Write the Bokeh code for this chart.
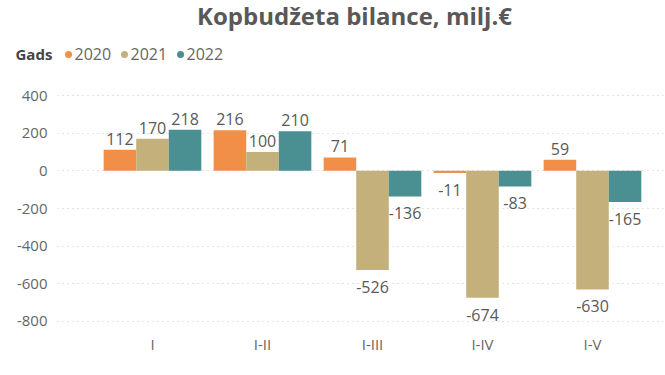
from bokeh.plotting import figure
from bokeh.models import Range1d, FixedTicker, ColumnDataSource
from bokeh.embed import file_html
from bokeh.resources import INLINE
from bokeh.core.properties import value

# ---- data ----
periods = ["I", "I-II", "I-III", "I-IV", "I-V"]
years = ["2020", "2021", "2022"]
v2020 = [112, 216, 71, -11, 59]
v2021 = [170, 100, -526, -674, -630]
v2022 = [218, 210, -136, -83, -165]
y_ticks = [-800, -600, -400, -200, 0, 200, 400]
colors = ["#F18F49", "#C4B07B", "#4A8F91"]
title_text = "Kopbudžeta bilance, milj.€"
legend_title = "Gads"

FONT = "Open Sans"
W = 665
HEAD_H = 86
MAIN_H = 375 - HEAD_H
BAR_W = 0.296

# ---------- header (title + legend) ----------
head = figure(width=W, height=HEAD_H, output_backend="svg", toolbar_location=None,
              x_range=Range1d(0, W), y_range=Range1d(HEAD_H, 0),
              x_axis_type=None, y_axis_type=None,
              min_border=0, min_border_left=0, min_border_right=0,
              min_border_top=0, min_border_bottom=0)
head.outline_line_color = None
head.xgrid.visible = False
head.ygrid.visible = False

head.text(x=[354], y=[15], text=[title_text], text_align="center", text_baseline="alphabetic",
          text_font=value(FONT), text_font_style="bold", text_font_size="24px",
          text_color="#585858")
head.text(x=[15], y=[53.5], text=[legend_title], text_align="left", text_baseline="alphabetic",
          text_font=value(FONT), text_font_style="bold", text_font_size="15px",
          text_color="#444444")
leg_x0, leg_step = 68, 56
dot_x = [leg_x0 + i * leg_step for i in range(len(years))]
head.scatter(x=dot_x, y=[54] * len(years), marker="circle", size=7,
             fill_color=colors, line_color=None)
head.text(x=[d + 6 for d in dot_x], y=[53] * len(years), text=years,
          text_align="left", text_baseline="alphabetic",
          text_font=value(FONT), text_font_size="16px", text_color="#666666")

# ---------- main chart ----------
p = figure(width=W, height=MAIN_H, output_backend="svg", toolbar_location=None,
           x_range=Range1d(-0.8636, 4.6455), y_range=Range1d(-847.8, 447.8),
           min_border_left=57, min_border_right=2, min_border_top=0, min_border_bottom=45)
p.outline_line_color = None

series = [v2020, v2021, v2022]
for i, (vals, col) in enumerate(zip(series, colors)):
    xs = [k + (i - 1) * BAR_W for k in range(len(periods))]
    src = ColumnDataSource(dict(
        x=xs, top=vals,
        label=[str(v) for v in vals],
        yoff=[-11 if v >= 0 else 17 for v in vals],
    ))
    p.vbar(x="x", top="top", bottom=0, width=BAR_W, fill_color=col, line_color=None, source=src)
    p.text(x="x", y="top", text="label", y_offset="yoff", source=src,
           text_align="center", text_baseline="alphabetic",
           text_font=value(FONT), text_font_size="16px", text_color="#595959")

p.xaxis.ticker = FixedTicker(ticks=list(range(len(periods))))
p.xaxis.major_label_overrides = {i: s for i, s in enumerate(periods)}
p.yaxis.ticker = FixedTicker(ticks=y_ticks)
p.yaxis.major_label_overrides = {t: str(t) for t in y_ticks}
for ax in (p.xaxis, p.yaxis):
    ax.axis_line_color = None
    ax.major_tick_line_color = None
    ax.minor_tick_line_color = None
    ax.major_label_text_font = FONT
    ax.major_label_text_font_size = "15px"
    ax.major_label_text_color = "#666666"
p.xaxis.major_label_standoff = -3
p.yaxis.major_label_standoff = 4

p.xgrid.visible = False
p.ygrid.grid_line_color = "#C8C8C8"
p.ygrid.grid_line_dash = "1 4"
p.ygrid.grid_line_width = 1

open("out.html", "w").write(file_html([head, p], INLINE))
